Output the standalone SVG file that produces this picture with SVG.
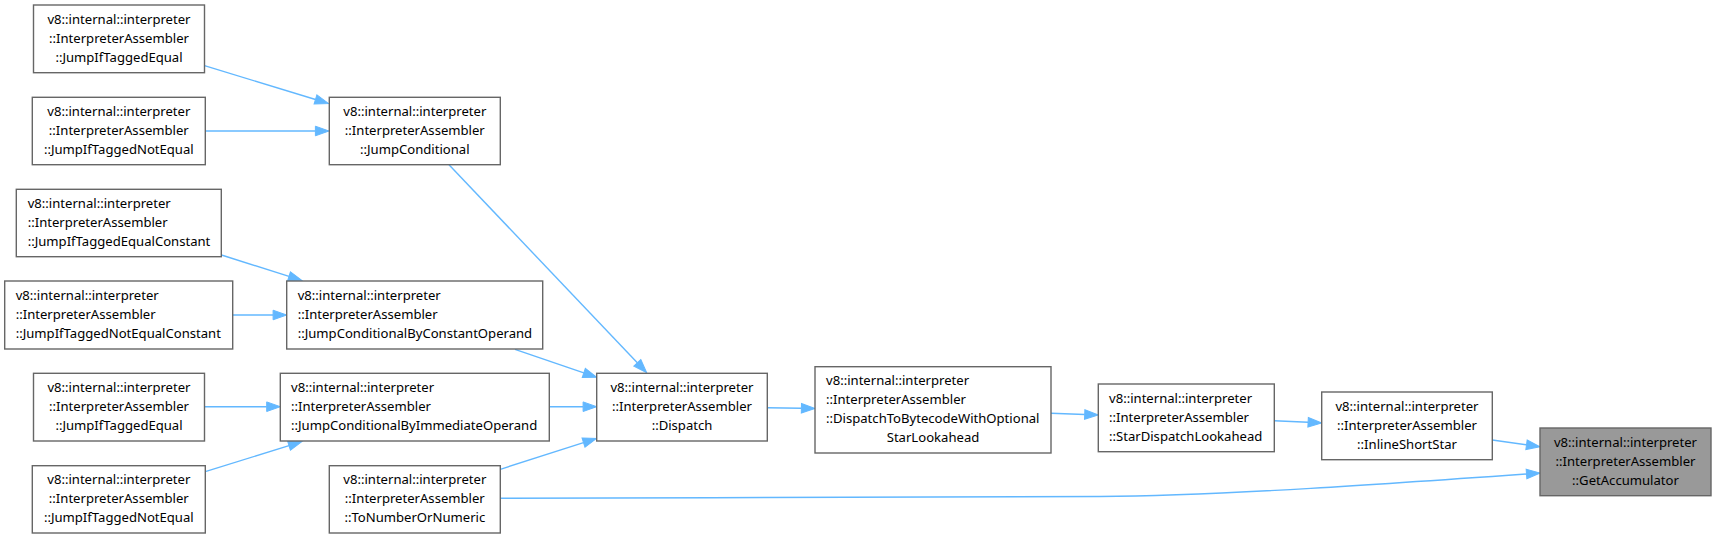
<svg xmlns="http://www.w3.org/2000/svg" width="1716" height="538" viewBox="0 0 1716 538">
<defs>
<marker id="ah" markerUnits="userSpaceOnUse" markerWidth="16" markerHeight="12" refX="0" refY="0" orient="auto" viewBox="0 -6 16 12" overflow="visible">
<path d="M0,-4.8 L13.6,0 L0,4.8 z" fill="#63b8ff" stroke="#63b8ff" stroke-width="1"/>
</marker>
<style>
.n rect{fill:#ffffff;stroke:#666666;stroke-width:1.4}
.n.cur rect{fill:#999999}
.n text{font-family:"Noto Sans","Open Sans","Liberation Sans",sans-serif;font-size:13.1px;fill:#000000}
.c{text-anchor:middle}
.l{text-anchor:start}
#edges path{fill:none;stroke:#63b8ff;stroke-width:1.4;marker-end:url(#ah)}
</style>
</defs>
<rect width="1716" height="538" fill="#ffffff"/>
<g id="edges">
<path d="M204.5,65.7 L315.5,99.5"/>
<path d="M205.3,131 L315.4,131"/>
<path d="M449,164.7 L637.3,362.8"/>
<path d="M221.5,255 L289,276.4"/>
<path d="M232.7,315 L273.1,315"/>
<path d="M515,349.3 L583.8,372.9"/>
<path d="M204.5,406.7 L266.7,406.7"/>
<path d="M205.3,471.7 L289,445.6"/>
<path d="M549.3,406.7 L583.1,406.7"/>
<path d="M500.3,469.3 L583.5,442.6"/>
<path d="M767.3,407.7 L801.4,408.3"/>
<path d="M1051,413.3 L1084.7,414.5"/>
<path d="M1274.3,420.7 L1308.1,422.3"/>
<path d="M1492.3,440 L1526.5,444.8"/>
<path d="M500.3,498.3 C700,497.6 950,497.4 1100,496.5 C1220,495.8 1400,483 1526.5,474"/>
</g>
<g id="n_jite1" class="n"><rect x="33.5" y="5" width="171" height="67.7"/>
<text class="c" x="119" y="23.7">v8::internal::interpreter</text>
<text class="c" x="119" y="42.7">::InterpreterAssembler</text>
<text class="c" x="119" y="61.7">::JumpIfTaggedEqual</text></g>
<g id="n_jitne1" class="n"><rect x="32.3" y="97.3" width="173" height="67.4"/>
<text class="c" x="118.8" y="115.9">v8::internal::interpreter</text>
<text class="c" x="118.8" y="134.9">::InterpreterAssembler</text>
<text class="c" x="118.8" y="153.9">::JumpIfTaggedNotEqual</text></g>
<g id="n_jc" class="n"><rect x="329.3" y="97.3" width="171" height="67.4"/>
<text class="c" x="414.8" y="115.9">v8::internal::interpreter</text>
<text class="c" x="414.8" y="134.9">::InterpreterAssembler</text>
<text class="c" x="414.8" y="153.9">::JumpConditional</text></g>
<g id="n_jitec" class="n"><rect x="16.3" y="189.3" width="205" height="67.4"/>
<text class="l" x="27.7" y="207.9">v8::internal::interpreter</text>
<text class="l" x="27.7" y="226.9">::InterpreterAssembler</text>
<text class="l" x="27.7" y="245.9">::JumpIfTaggedEqualConstant</text></g>
<g id="n_jitnec" class="n"><rect x="4.7" y="281" width="228" height="68"/>
<text class="l" x="15.7" y="299.9">v8::internal::interpreter</text>
<text class="l" x="15.7" y="318.9">::InterpreterAssembler</text>
<text class="l" x="15.7" y="337.9">::JumpIfTaggedNotEqualConstant</text></g>
<g id="n_jcbco" class="n"><rect x="286.7" y="281" width="256" height="68"/>
<text class="l" x="297.7" y="299.9">v8::internal::interpreter</text>
<text class="l" x="297.7" y="318.9">::InterpreterAssembler</text>
<text class="l" x="297.7" y="337.9">::JumpConditionalByConstantOperand</text></g>
<g id="n_jite2" class="n"><rect x="33.5" y="373.3" width="171" height="67.7"/>
<text class="c" x="119" y="392">v8::internal::interpreter</text>
<text class="c" x="119" y="411">::InterpreterAssembler</text>
<text class="c" x="119" y="430">::JumpIfTaggedEqual</text></g>
<g id="n_jcbio" class="n"><rect x="280.3" y="373.3" width="269" height="67.7"/>
<text class="l" x="291" y="392">v8::internal::interpreter</text>
<text class="l" x="291" y="411">::InterpreterAssembler</text>
<text class="l" x="291" y="430">::JumpConditionalByImmediateOperand</text></g>
<g id="n_jitne2" class="n"><rect x="32.3" y="465.7" width="173" height="67.3"/>
<text class="c" x="118.8" y="484.3">v8::internal::interpreter</text>
<text class="c" x="118.8" y="503.3">::InterpreterAssembler</text>
<text class="c" x="118.8" y="522.3">::JumpIfTaggedNotEqual</text></g>
<g id="n_tonum" class="n"><rect x="329.3" y="465.7" width="171" height="67.3"/>
<text class="c" x="414.8" y="484.3">v8::internal::interpreter</text>
<text class="c" x="414.8" y="503.3">::InterpreterAssembler</text>
<text class="c" x="414.8" y="522.3">::ToNumberOrNumeric</text></g>
<g id="n_dispatch" class="n"><rect x="596.7" y="373.3" width="170.6" height="67.7"/>
<text class="c" x="682" y="392">v8::internal::interpreter</text>
<text class="c" x="682" y="411">::InterpreterAssembler</text>
<text class="c" x="682" y="430">::Dispatch</text></g>
<g id="n_dtb" class="n"><rect x="815" y="366.7" width="236" height="86.3"/>
<text class="l" x="826" y="385.2">v8::internal::interpreter</text>
<text class="l" x="826" y="404.2">::InterpreterAssembler</text>
<text class="l" x="826" y="423.2">::DispatchToBytecodeWithOptional</text>
<text class="c" x="933" y="442.2">StarLookahead</text></g>
<g id="n_sdl" class="n"><rect x="1098.3" y="384" width="176" height="67.7"/>
<text class="l" x="1109" y="402.7">v8::internal::interpreter</text>
<text class="l" x="1109" y="421.7">::InterpreterAssembler</text>
<text class="l" x="1109" y="440.7">::StarDispatchLookahead</text></g>
<g id="n_iss" class="n"><rect x="1321.7" y="392" width="170.6" height="67.7"/>
<text class="c" x="1407" y="410.7">v8::internal::interpreter</text>
<text class="c" x="1407" y="429.7">::InterpreterAssembler</text>
<text class="c" x="1407" y="448.7">::InlineShortStar</text></g>
<g id="n_ga" class="n cur"><rect x="1540" y="428" width="171" height="67.7"/>
<text class="c" x="1625.5" y="446.7">v8::internal::interpreter</text>
<text class="c" x="1625.5" y="465.7">::InterpreterAssembler</text>
<text class="c" x="1625.5" y="484.7">::GetAccumulator</text></g>
</svg>
